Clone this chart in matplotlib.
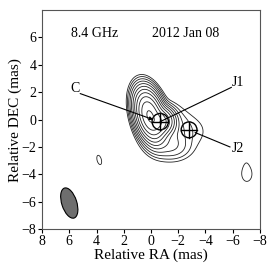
import numpy as np
import matplotlib
matplotlib.use("Agg")
import matplotlib.pyplot as plt
from matplotlib.patches import Ellipse, Circle

plt.rcParams['font.family'] = ['Liberation Serif', 'DejaVu Serif']

# ---- data ----
# gaussian model components: RA, DEC, flux, sigma major, sigma minor, PA (deg E of N)
comp_ra = [0.1, -0.7, -1.1, -1.3, -3.2, 3.8, -7.05, -7.0]
comp_dec = [0.3, -0.15, -0.8, -1.9, -0.85, -2.95, -4.0, -3.3]
comp_flux = [1.0, 0.3, 0.008, 0.006, 0.001, 0.0011, 0.0013, 0.0005]
comp_smaj = [0.82, 0.45, 1.0, 0.8, 0.95, 0.55, 0.55, 0.6]
comp_smin = [0.42, 0.45, 0.9, 0.5, 0.95, 0.25, 0.4, 0.22]
comp_pa = [15, 0, 20, 80, 0, 15, 0, 0]

# contour levels: factor 2 steps
levels = [0.0009 * 2 ** k for k in range(11)]

# fitted components (C, J1, J2)
knot_names = ["C", "J1", "J2"]
knot_ra = [-0.16, -0.68, -2.8]
knot_dec = [0.0, -0.15, -0.75]
knot_radius = [0.0, 0.6, 0.58]
label_ra = [5.6, -6.4, -6.4]
label_dec = [2.25, 2.7, -2.15]

# restoring beam
beam_ra, beam_dec = 6.0, -6.1
beam_min, beam_maj, beam_pa = 1.1, 2.3, 18

# ---- model image ----
ra = np.linspace(-8, 8, 600)
dec = np.linspace(-8, 8, 600)
X, Y = np.meshgrid(ra, dec)
img = np.zeros_like(X)
for x0, y0, f, smaj, smin, pa in zip(comp_ra, comp_dec, comp_flux, comp_smaj, comp_smin, comp_pa):
    t = np.radians(pa)
    u = (X - x0) * np.sin(t) + (Y - y0) * np.cos(t)   # along major axis
    v = (X - x0) * np.cos(t) - (Y - y0) * np.sin(t)
    img += f * np.exp(-0.5 * ((u / smaj) ** 2 + (v / smin) ** 2))

fig = plt.figure(figsize=(2.73, 2.73), dpi=100)
ax = fig.add_axes([0.154, 0.161, 0.798, 0.802])
ax.contour(X, Y, img, levels=levels, colors="#222222", linewidths=0.6)

for name, x, y, r, lx, ly in zip(knot_names, knot_ra, knot_dec, knot_radius, label_ra, label_dec):
    ax.text(lx, ly, name, fontsize=10, ha="center", va="center")
    if r > 0:
        ax.add_patch(Circle((x, y), r, fill=False, ec="black", lw=1.0))
        ax.plot([x + r, x - r], [y, y], color="black", lw=1.0)
        ax.plot([x, x], [y - r, y + r], color="black", lw=1.0)

# pointer lines
ax.annotate("", xy=(knot_ra[0], knot_dec[0]), xytext=(5.2, 1.9),
            arrowprops=dict(arrowstyle="-|>", lw=0.8, color="black",
                            mutation_scale=5, shrinkA=0, shrinkB=0))
ax.plot([-5.9, knot_ra[1]], [2.35, knot_dec[1]], color="black", lw=0.8)
ax.plot([-3.25, -5.8], [-0.95, -2.0], color="black", lw=0.8)

ax.add_patch(Ellipse((beam_ra, beam_dec), beam_min, beam_maj, angle=-beam_pa,
                     fc="#6e6e6e", ec="black", lw=0.8))

ax.text(5.9, 6.3, "8.4 GHz", fontsize=10, va="center")
ax.text(-0.1, 6.3, "2012 Jan 08", fontsize=10, va="center")

ax.set_xlim(8, -8)
ax.set_ylim(-8, 8)
ax.set_xticks(np.arange(8, -9, -2))
ax.set_yticks(np.arange(-8, 7, 2))
ax.tick_params(direction="out", length=3, labelsize=10, pad=1)
ax.set_xlabel("Relative RA (mas)", fontsize=11, labelpad=1)
ax.set_ylabel("Relative DEC (mas)", fontsize=11, labelpad=0)
for s in ax.spines.values():
    s.set_color("#555555")

fig.savefig("out.png", dpi=100)
